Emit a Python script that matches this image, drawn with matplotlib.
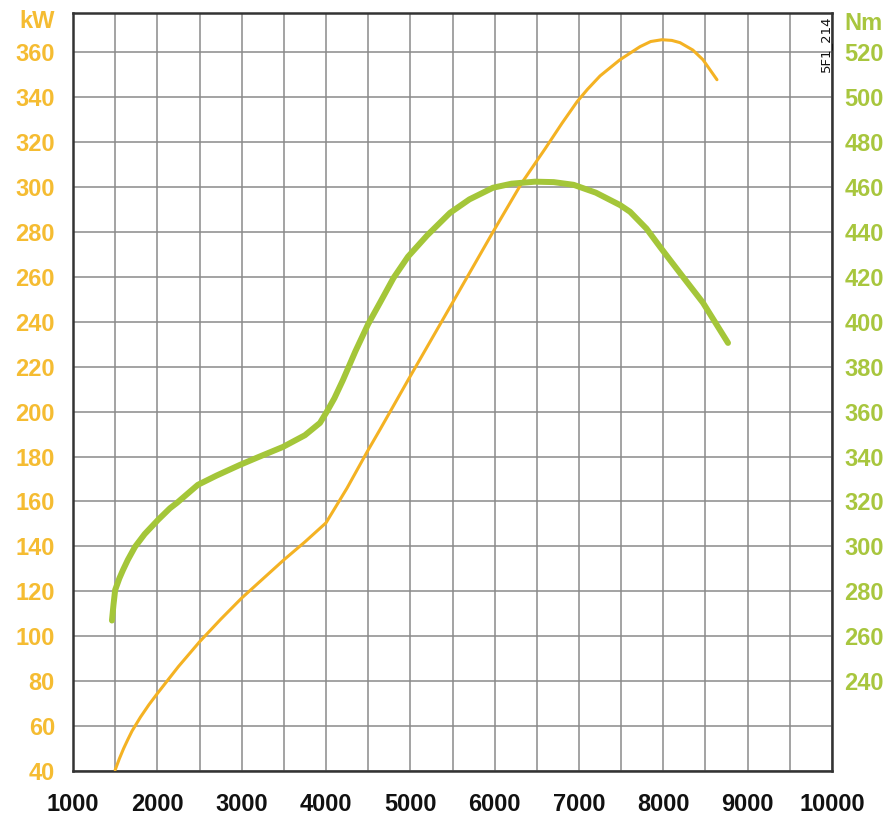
import matplotlib
matplotlib.use("Agg")
import matplotlib.pyplot as plt
from matplotlib.ticker import MultipleLocator, FixedLocator

# ---- data ----
rpm_kw = [1500, 1550, 1600, 1650, 1700, 1800, 1900, 2000, 2250, 2500, 2750, 3000,
          3250, 3500, 3750, 4000, 4250, 4486, 4640, 4972, 5500, 5980, 6324,
          6597, 6800, 6977, 7100, 7250, 7486, 7723, 7850, 7983, 8100, 8198, 8350,
          8470, 8636]
power_kw = [40.5, 45.5, 50, 54, 57.8, 64, 69.5, 74.5, 86.5, 97.5, 107.5, 117,
            125.5, 134, 142, 150.5, 166, 182, 192, 214, 248.5, 280, 302,
            317, 328.5, 338, 343.5, 349.5, 356.7, 362.5, 364.8, 365.6, 365.3, 364.3, 361,
            356.7, 347.8]

rpm_nm = [1462, 1480, 1500, 1550, 1593, 1650, 1735, 1850, 2008, 2150, 2233,
          2480, 2700, 2980, 3200, 3490, 3750, 3929, 4010, 4100, 4200, 4350,
          4500, 4640, 4800, 4972, 5200, 5470, 5700, 5980, 6200, 6478, 6700,
          6936, 7200, 7486, 7605, 7800, 7960, 8100, 8233, 8470, 8767]
torque_nm = [267, 274, 280.6, 285.8, 289.5, 294, 299.8, 305.5, 311.8, 317, 319.4,
             327.4, 331.5, 336.3, 339.8, 344.3, 349.5, 355, 360, 366, 374, 387,
             399, 408.5, 419.5, 429, 438.5, 448.5, 454.5, 459.7, 461.5, 462.4, 462.2,
             461, 457.5, 452, 449, 441.5, 433.4, 426.5, 420, 408.5, 390.6]

x_ticks = [1000, 2000, 3000, 4000, 5000, 6000, 7000, 8000, 9000, 10000]
kw_ticks = list(range(40, 361, 20))
nm_ticks = list(range(240, 521, 20))

ORANGE = '#F4B223'
ORANGE_TXT = '#F5BC32'
GREEN = '#A4C639'
GREEN_TXT = '#A8C63E'
FONT = ['Liberation Sans', 'DejaVu Sans']

fig = plt.figure(figsize=(8.92, 8.16), dpi=100)
ax = fig.add_axes([73/892, 45/816, (832-73)/892, (771-13)/816])
ax.set_xlim(1000, 10000)
ax.set_ylim(40, 377.5)

ax.xaxis.set_major_locator(FixedLocator(x_ticks))
ax.xaxis.set_minor_locator(MultipleLocator(500))
ax.yaxis.set_major_locator(FixedLocator(kw_ticks))
ax.grid(True, which='both', color='#8a8a8a', linewidth=1.1)
ax.set_axisbelow(True)

ax.tick_params(axis='x', which='both', length=0, pad=16, labelsize=17)
ax.tick_params(axis='y', which='both', length=0, pad=13, labelsize=17, labelcolor=ORANGE_TXT)
for lab in ax.get_xticklabels():
    lab.set_fontfamily(FONT); lab.set_fontweight('bold'); lab.set_color('#111111')
for lab in ax.get_yticklabels():
    lab.set_fontfamily(FONT); lab.set_fontweight('bold')

for s in ax.spines.values():
    s.set_color('#333333'); s.set_linewidth(1.8)

ax2 = ax.twinx()
ax2.set_ylim(200, 537.5)
ax2.yaxis.set_major_locator(FixedLocator(nm_ticks))
ax2.tick_params(axis='y', length=0, pad=9, labelsize=17, labelcolor=GREEN_TXT)
for lab in ax2.get_yticklabels():
    lab.set_fontfamily(FONT); lab.set_fontweight('bold')
for s in ax2.spines.values():
    s.set_visible(False)

ax.plot(rpm_kw, power_kw, color=ORANGE, linewidth=2.2, solid_capstyle='round',
        solid_joinstyle='round', zorder=3)
ax2.plot(rpm_nm, torque_nm, color=GREEN, linewidth=4.3, solid_capstyle='round',
         solid_joinstyle='round', zorder=3)

fig.text(55/892, 1 - 22/816, 'kW', ha='right', va='center', fontsize=17,
         fontweight='bold', color=ORANGE_TXT, family=FONT)
fig.text(844/892, 1 - 24/816, 'Nm', ha='left', va='center', fontsize=17,
         fontweight='bold', color=GREEN_TXT, family=FONT)
fig.text(825/892, 1 - 15/816, '5F1_214', ha='center', va='top', rotation=90,
         fontsize=9.5, color='#111111', family=['DejaVu Sans'])

fig.savefig('out.png', dpi=100)
